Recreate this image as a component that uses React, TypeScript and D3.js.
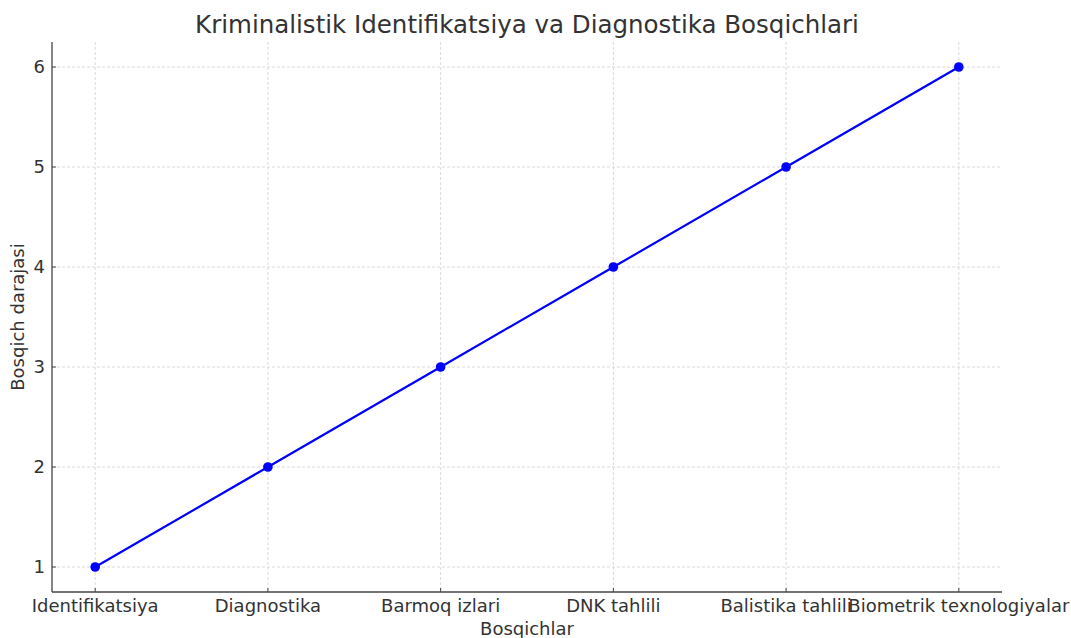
import React from 'react';
import * as d3 from 'd3';

const stages = ['Identifikatsiya', 'Diagnostika', 'Barmoq izlari', 'DNK tahlili', 'Balistika tahlili', 'Biometrik texnologiyalar'];
const levels = [1, 2, 3, 4, 5, 6];
const yTicks = [1, 2, 3, 4, 5, 6];

const W = 1071;
const H = 638;
const left = 52, right = 1002, top = 42, bottom = 592;

const App = () => {
    const x = d3.scaleLinear().domain([-0.25, stages.length - 0.75]).range([left, right]);
    const y = d3.scaleLinear().domain([0.75, 6.25]).range([bottom, top]);
    const line = d3.line<number>().x((_, i) => x(i)).y(d => y(d));
    const font = "'DejaVu Sans', sans-serif";
    const textCol = '#333';
    const fs = 18;

    return (
        <svg width={W} height={H} style={{ position: 'absolute', left: 0, top: 0, fontFamily: font }}>
            <rect width={W} height={H} fill="#fff" />
            {/* grid */}
            {stages.map((_, i) => (
                <line key={'gx' + i} x1={x(i)} x2={x(i)} y1={top} y2={bottom} stroke="#d0d0d0" strokeWidth={0.8} strokeDasharray="3,2" />
            ))}
            {yTicks.map(t => (
                <line key={'gy' + t} x1={left} x2={right} y1={y(t)} y2={y(t)} stroke="#d0d0d0" strokeWidth={0.8} strokeDasharray="3,2" />
            ))}
            {/* spines */}
            <line x1={left} x2={left} y1={top} y2={bottom} stroke="#444" strokeWidth={1.3} />
            <line x1={left} x2={right} y1={bottom} y2={bottom} stroke="#444" strokeWidth={1.3} />
            {/* ticks */}
            {yTicks.map(t => (
                <g key={'ty' + t}>
                    <line x1={left} x2={left + 4} y1={y(t)} y2={y(t)} stroke="#444" strokeWidth={1} />
                    <text x={left - 7} y={y(t)} dy="0.36em" textAnchor="end" fontSize={fs} fill={textCol}>{t}</text>
                </g>
            ))}
            {stages.map((s, i) => (
                <g key={'tx' + i}>
                    <line x1={x(i)} x2={x(i)} y1={bottom} y2={bottom - 4} stroke="#444" strokeWidth={1} />
                    <text x={x(i)} y={bottom + 20} textAnchor="middle" fontSize={fs} fill={textCol}>{s}</text>
                </g>
            ))}
            {/* line and markers */}
            <path d={line(levels) || ''} fill="none" stroke="#0000ff" strokeWidth={2.2} />
            {levels.map((v, i) => (
                <circle key={'p' + i} cx={x(i)} cy={y(v)} r={4.8} fill="#0000ff" />
            ))}
            {/* labels */}
            <text x={(left + right) / 2} y={33} textAnchor="middle" fontSize={24.5} fill={textCol}>Kriminalistik Identifikatsiya va Diagnostika Bosqichlari</text>
            <text x={(left + right) / 2} y={635} textAnchor="middle" fontSize={fs} fill={textCol}>Bosqichlar</text>
            <text transform={`translate(24,${(top + bottom) / 2}) rotate(-90)`} textAnchor="middle" fontSize={fs} fill={textCol}>Bosqich darajasi</text>
        </svg>
    );
};

export default App;
